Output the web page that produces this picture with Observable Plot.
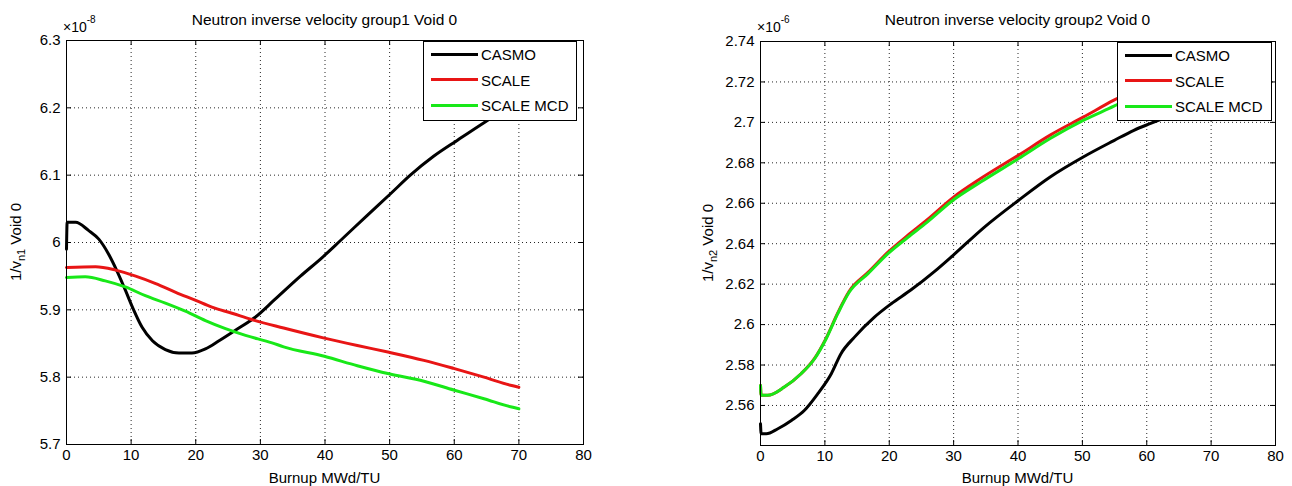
<!DOCTYPE html>
<html>
<head>
<meta charset="utf-8">
<script src="https://cdn.jsdelivr.net/npm/d3@7"></script>
<script src="https://cdn.jsdelivr.net/npm/@observablehq/plot@0.6"></script>
<style>
  body { margin: 0; background: #fff; font-family: "Liberation Sans", Arial, sans-serif; color: #000; }
  #wrap { position: relative; width: 1292px; height: 486px; overflow: hidden; background: #fff; }
  .panel { position: absolute; top: 0; }
  .txt { position: absolute; white-space: nowrap; font-size: 15px; line-height: 1; }
  .title { transform: translate(-50%, -50%); font-size: 15.5px; }
  .xlab { transform: translate(-50%, -50%); }
  .ylab { transform: translate(-50%, -50%) rotate(-90deg); }
  .ylab sub { font-size: 11px; vertical-align: -4px; line-height: 0; }
  .mult { font-size: 14px; }
  .mult sup { font-size: 10px; vertical-align: 9px; line-height: 0; }
  .legend { position: absolute; background: #fff; border: 1px solid #000; box-sizing: border-box; }
  .legend .sw { position: absolute; height: 3px; width: 47px; }
  .legend .lt { position: absolute; font-size: 15px; line-height: 1; transform: translateY(-50%); white-space: nowrap; }
</style>
</head>
<body>
<div id="wrap"></div>
<script>
// ---------- data ----------
const seriesNames = ["CASMO", "SCALE", "SCALE MCD"];
const seriesColors = ["#000000", "#e81515", "#18e818"];
const xTicks = [0, 10, 20, 30, 40, 50, 60, 70, 80];

// group 1 (values x 1e-8)
const g1Ticks = [5.7, 5.8, 5.9, 6.0, 6.1, 6.2, 6.3];
const g1CasmoBurnup = [0, 0.1, 1.4, 3.4, 5.0, 6.5, 7.8, 8.9, 10.2, 11.7, 13.3, 15.3, 17.4, 19.4, 21.5, 23.6, 26.2, 29.2, 32.2, 36.2, 39.6, 42.4, 46.5, 50.1, 53.2, 56.8, 60.5, 64.6, 70];
const g1Casmo = [5.99, 6.030, 6.030, 6.018, 6.005, 5.983, 5.958, 5.934, 5.904, 5.874, 5.854, 5.841, 5.836, 5.836, 5.842, 5.854, 5.870, 5.889, 5.915, 5.950, 5.978, 6.003, 6.040, 6.072, 6.100, 6.128, 6.152, 6.178, 6.210];
const g1ScaleBurnup = [0, 4.5, 7.6, 10.7, 13.8, 16.9, 20, 22.5, 25.6, 28.5, 33.6, 39.9, 45, 49.9, 55.3, 59.9, 64.6, 68.7, 70];
const g1Scale = [5.963, 5.964, 5.959, 5.950, 5.939, 5.926, 5.914, 5.904, 5.895, 5.886, 5.873, 5.858, 5.847, 5.837, 5.825, 5.813, 5.800, 5.788, 5.785];
const g1McdBurnup = [0, 2.9, 6, 9.1, 12.2, 15.3, 18.4, 21.5, 24.6, 27.7, 31.8, 33.6, 39.9, 45, 49.9, 55.3, 59.9, 64.6, 68.7, 70];
const g1Mcd = [5.948, 5.949, 5.943, 5.934, 5.921, 5.910, 5.898, 5.884, 5.872, 5.862, 5.851, 5.845, 5.831, 5.817, 5.805, 5.794, 5.781, 5.768, 5.756, 5.753];

// group 2 (values x 1e-6)
const g2Ticks = [2.56, 2.58, 2.60, 2.62, 2.64, 2.66, 2.68, 2.70, 2.72, 2.74];
const g2CasmoBurnup = [0, 0.1, 0.9, 2.7, 4.8, 6.8, 8.9, 11.0, 12.5, 14.6, 17.7, 20.3, 23.4, 27.0, 30.0, 34.7, 40.1, 45, 50.2, 54.9, 58, 60.6, 65, 70];
const g2Casmo = [2.5509, 2.546, 2.546, 2.5485, 2.5526, 2.5575, 2.5658, 2.5757, 2.5856, 2.5938, 2.6037, 2.6103, 2.6172, 2.6262, 2.6345, 2.648, 2.6615, 2.673, 2.683, 2.691, 2.6961, 2.6995, 2.705, 2.711];
const g2ScaleBurnup = [0, 0.1, 1.1, 3.7, 6.3, 8.4, 10.2, 12.0, 13.8, 16.7, 19.8, 22.9, 25.9, 29.9, 34.2, 40.1, 45, 50.2, 54.9, 60, 65, 70];
const g2Scale = [2.5699, 2.565, 2.565, 2.5691, 2.5757, 2.5833, 2.5933, 2.6058, 2.6166, 2.6258, 2.6358, 2.6442, 2.6519, 2.6628, 2.6722, 2.6838, 2.6937, 2.7027, 2.711, 2.719, 2.727, 2.734];
const g2McdBurnup = [0, 0.1, 1.1, 3.7, 6.3, 8.4, 10.2, 12.0, 13.8, 16.7, 19.8, 22.9, 25.9, 29.9, 34.2, 40.1, 45, 50.2, 54.9, 60, 65, 70];
const g2Mcd = [2.5699, 2.565, 2.565, 2.5691, 2.5757, 2.5831, 2.593, 2.6054, 2.6161, 2.6252, 2.6351, 2.6432, 2.6507, 2.6615, 2.6705, 2.6821, 2.692, 2.7011, 2.708, 2.716, 2.723, 2.730];

// ---------- build ----------
function rows(name, bs, vs) { return bs.map((b, i) => ({series: name, b, v: vs[i]})); }
const g1Data = [
  ...rows("CASMO", g1CasmoBurnup, g1Casmo),
  ...rows("SCALE", g1ScaleBurnup, g1Scale),
  ...rows("SCALE MCD", g1McdBurnup, g1Mcd)
];
const g2Data = [
  ...rows("CASMO", g2CasmoBurnup, g2Casmo),
  ...rows("SCALE", g2ScaleBurnup, g2Scale),
  ...rows("SCALE MCD", g2McdBurnup, g2Mcd)
];

const wrap = document.getElementById("wrap");
const fmt = d => String(+d.toFixed(2));

function panel(cfg) {
  const W = cfg.width, H = 486;
  const pw = W - cfg.ml - cfg.mr, ph = H - cfg.mt - cfg.mb;
  const tk = 5;
  const interiorX = xTicks.slice(1, -1);
  const interiorY = cfg.yTicks.filter(t => t > cfg.yDomain[0] + 1e-9 && t < cfg.yDomain[1] - 1e-9);
  const chart = Plot.plot({
    width: W, height: H,
    marginLeft: cfg.ml, marginRight: cfg.mr, marginTop: cfg.mt, marginBottom: cfg.mb,
    style: {fontSize: "15px", fontFamily: "'Liberation Sans', Arial, sans-serif", background: "transparent", color: "#000", overflow: "visible"},
    x: {domain: [0, 80]},
    y: {domain: cfg.yDomain},
    color: {domain: seriesNames, range: seriesColors},
    marks: [
      Plot.ruleX(interiorX, {x: d => d, stroke: "#000", strokeOpacity: 0.85, strokeDasharray: "1,3"}),
      Plot.ruleY(interiorY, {y: d => d, stroke: "#000", strokeOpacity: 0.85, strokeDasharray: "1,3"}),
      Plot.line(cfg.data, {x: "b", y: "v", z: "series", stroke: "series", strokeWidth: 3, strokeLinejoin: "round", curve: "monotone-x"}),
      Plot.tickX(xTicks, {x: d => d, insetTop: ph - tk, stroke: "#000"}),
      Plot.tickX(xTicks, {x: d => d, insetBottom: ph - tk, stroke: "#000"}),
      Plot.tickY(cfg.yTicks, {y: d => d, insetRight: pw - tk, stroke: "#000"}),
      Plot.tickY(cfg.yTicks, {y: d => d, insetLeft: pw - tk, stroke: "#000"}),
      Plot.frame({stroke: "#000"}),
      Plot.axisX(xTicks, {tickSize: 0, tickPadding: 5, label: null, tickFormat: d => String(d)}),
      Plot.axisY(cfg.yTicks, {tickSize: 0, tickPadding: 6, label: null, tickFormat: fmt})
    ]
  });
  chart.classList.add("panel");
  chart.style.left = cfg.left + "px";
  wrap.appendChild(chart);

  const fx0 = cfg.left + cfg.ml, fx1 = cfg.left + W - cfg.mr;
  const cx = (fx0 + fx1) / 2;
  const add = (cls, html, x, y) => {
    const d = document.createElement("div");
    d.className = "txt " + cls;
    d.innerHTML = html;
    d.style.left = x + "px"; d.style.top = y + "px";
    wrap.appendChild(d);
    return d;
  };
  add("title", cfg.title, cx, 20);
  add("xlab", "Burnup MWd/TU", cx, 477);
  add("ylab", cfg.ylab, cfg.ylabX, cfg.mt + ph / 2);
  add("mult", cfg.mult, fx0 - 3, 20);

  const lg = document.createElement("div");
  lg.className = "legend";
  lg.style.left = cfg.lg[0] + "px"; lg.style.top = cfg.lg[1] + "px";
  lg.style.width = cfg.lg[2] + "px"; lg.style.height = cfg.lg[3] + "px";
  seriesNames.forEach((n, i) => {
    const yy = 12 + i * 25.5;
    const s = document.createElement("div");
    s.className = "sw"; s.style.background = seriesColors[i];
    s.style.left = "7px"; s.style.top = (yy - 1.5) + "px";
    lg.appendChild(s);
    const t = document.createElement("div");
    t.className = "lt"; t.textContent = n;
    t.style.left = "57px"; t.style.top = yy + "px";
    lg.appendChild(t);
  });
  wrap.appendChild(lg);
}

panel({
  left: 0, width: 646, ml: 66, mr: 63, mt: 40, mb: 42,
  yDomain: [5.7, 6.3], yTicks: g1Ticks, data: g1Data,
  title: "Neutron inverse velocity group1 Void 0",
  ylab: "1/v<sub>n1</sub> Void 0", ylabX: 15,
  mult: "×10<sup>-8</sup>",
  lg: [423, 41, 154, 80]
});
panel({
  left: 646, width: 646, ml: 114, mr: 17, mt: 41, mb: 41,
  yDomain: [2.5402, 2.74], yTicks: g2Ticks, data: g2Data,
  title: "Neutron inverse velocity group2 Void 0",
  ylab: "1/v<sub>n2</sub> Void 0", ylabX: 707,
  mult: "×10<sup>-6</sup>",
  lg: [1117, 42, 155, 79]
});
</script>
</body>
</html>
